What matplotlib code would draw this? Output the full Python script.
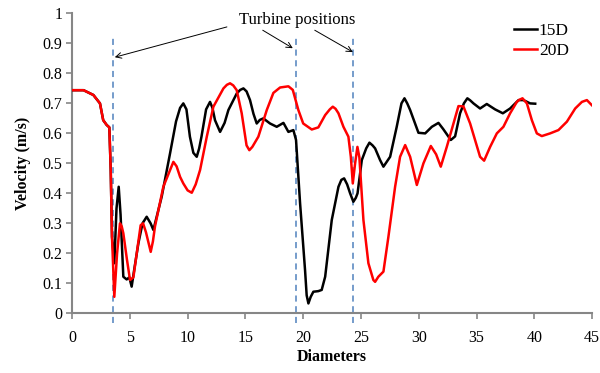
import matplotlib
matplotlib.use("Agg")
import matplotlib.pyplot as plt

plt.rcParams.update({
    "font.family": "serif",
    "font.serif": ["Liberation Serif", "DejaVu Serif"],
})

# velocity profiles along the array (diameters downstream, m/s)
x_15d = [0.0, 1.0, 1.85, 2.42, 2.7, 3.0, 3.23, 3.35, 3.46, 3.66, 3.85, 4.04,
         4.2, 4.44, 4.73, 4.96, 5.16, 5.4, 5.74, 6.1, 6.46, 6.8, 7.04, 7.76,
         8.48, 9.0, 9.35, 9.63, 9.9, 10.2, 10.5, 10.79, 11.0, 11.2, 11.6,
         11.94, 12.15, 12.37, 12.81, 13.2, 13.53, 14.25, 14.55, 14.83, 15.1,
         15.4, 15.7, 15.98, 16.25, 16.55, 17.13, 17.71, 18.29, 18.72, 19.15,
         19.38, 19.73, 20.16, 20.3, 20.45, 20.65, 20.88, 21.31, 21.6, 21.9,
         22.47, 23.05, 23.3, 23.54, 23.8, 24.06, 24.34, 24.55, 24.7, 25.07,
         25.45, 25.73, 26.0, 26.22, 26.65, 26.94, 27.52, 28.09, 28.5, 28.76,
         29.0, 29.25, 29.97, 30.55, 31.13, 31.7, 32.1, 32.77, 33.14, 33.57,
         33.9, 34.2, 34.45, 34.73, 35.3, 35.88, 36.6, 37.27, 37.9, 38.63,
         39.05, 39.63, 40.07]
v_15d = [0.744, 0.744, 0.728, 0.70, 0.644, 0.628, 0.62, 0.478, 0.255, 0.167,
         0.35, 0.422, 0.33, 0.122, 0.113, 0.12, 0.089, 0.15, 0.233, 0.30,
         0.322, 0.30, 0.278, 0.389, 0.533, 0.64, 0.685, 0.70, 0.68, 0.589,
         0.535, 0.522, 0.55, 0.589, 0.68, 0.705, 0.685, 0.644, 0.605, 0.635,
         0.678, 0.733, 0.745, 0.75, 0.74, 0.711, 0.665, 0.633, 0.645, 0.65,
         0.633, 0.622, 0.635, 0.605, 0.611, 0.578, 0.367, 0.144, 0.06, 0.033,
         0.055, 0.072, 0.074, 0.078, 0.122, 0.311, 0.422, 0.445, 0.45, 0.43,
         0.40, 0.372, 0.385, 0.40, 0.511, 0.55, 0.569, 0.56, 0.55, 0.511,
         0.489, 0.522, 0.622, 0.70, 0.717, 0.70, 0.678, 0.602, 0.60, 0.622,
         0.635, 0.615, 0.578, 0.59, 0.667, 0.70, 0.717, 0.71, 0.70, 0.683,
         0.698, 0.68, 0.667, 0.683, 0.711, 0.711, 0.70, 0.699]

x_20d = [0.0, 1.0, 1.85, 2.42, 2.7, 3.0, 3.23, 3.35, 3.46, 3.66, 3.9, 4.15,
         4.3, 4.44, 4.75, 5.02, 5.31, 5.94, 6.15, 6.4, 6.81, 7.0, 7.18, 7.9,
         8.77, 9.05, 9.35, 9.63, 10.0, 10.36, 10.7, 11.08, 11.66, 12.23,
         13.1, 13.4, 13.67, 13.95, 14.25, 14.68, 15.1, 15.34, 15.6, 16.12,
         16.85, 17.42, 18.0, 18.72, 19.1, 19.58, 20.0, 20.74, 21.31, 21.9,
         22.3, 22.56, 22.8, 23.05, 23.48, 23.91, 24.12, 24.29, 24.49, 24.69,
         24.86, 25.21, 25.64, 26.07, 26.22, 26.5, 26.94, 27.37, 27.95, 28.38,
         28.82, 29.25, 29.83, 30.4, 31.04, 31.5, 31.9, 32.42, 33.0, 33.43,
         33.86, 34.44, 35.3, 35.65, 36.17, 36.75, 37.32, 37.9, 38.48, 38.7,
         38.97, 39.35, 39.78, 40.21, 40.64, 41.36, 42.08, 42.81, 43.53, 44.11,
         44.54, 44.97]
v_20d = [0.744, 0.744, 0.728, 0.70, 0.644, 0.628, 0.62, 0.478, 0.255, 0.055,
         0.2, 0.30, 0.29, 0.267, 0.18, 0.111, 0.12, 0.294, 0.30, 0.27, 0.205,
         0.24, 0.29, 0.422, 0.505, 0.49, 0.455, 0.433, 0.41, 0.402, 0.43,
         0.478, 0.589, 0.689, 0.75, 0.762, 0.767, 0.76, 0.744, 0.667, 0.56,
         0.544, 0.555, 0.589, 0.678, 0.735, 0.753, 0.757, 0.745, 0.678, 0.633,
         0.613, 0.62, 0.661, 0.68, 0.689, 0.682, 0.667, 0.622, 0.589, 0.522,
         0.433, 0.50, 0.555, 0.52, 0.311, 0.167, 0.111, 0.105, 0.122, 0.139,
         0.255, 0.422, 0.522, 0.561, 0.522, 0.428, 0.50, 0.558, 0.53, 0.489,
         0.555, 0.633, 0.691, 0.69, 0.633, 0.522, 0.509, 0.555, 0.60, 0.622,
         0.667, 0.705, 0.712, 0.717, 0.70, 0.644, 0.60, 0.591, 0.60, 0.611,
         0.639, 0.683, 0.705, 0.711, 0.694]

turbines = [3.52, 19.38, 24.34]
note = "Turbine positions"
arrow_tips = [(3.7, 0.854), (19.1, 0.884), (24.3, 0.871)]
arrow_tails = [(13.4, 0.955), (16.5, 0.944), (21.0, 0.944)]

fig = plt.figure(figsize=(6.0, 3.73), dpi=100)
ax = fig.add_axes([0.12, 0.16, 0.867, 0.804])

ax.plot(x_15d, v_15d, color="black", lw=1.8, label="15D", zorder=3,
        solid_joinstyle="round")
ax.plot(x_20d, v_20d, color="red", lw=1.8, label="20D", zorder=3,
        solid_joinstyle="round")

for xt in turbines:
    ax.plot([xt, xt], [-0.033, 0.928], color="#4F81BD", lw=1.1,
            ls=(0, (4, 3)), clip_on=False, zorder=2)

ax.text(19.47, 0.978, note, ha="center", va="center", fontsize=12)
for tip, tail in zip(arrow_tips, arrow_tails):
    ax.annotate("", xy=tip, xytext=tail,
                arrowprops=dict(arrowstyle="->", color="black", lw=0.7,
                                shrinkA=0, shrinkB=0))

ax.set_xlim(0, 45)
ax.set_ylim(0, 1)
ax.set_xticks(range(0, 46, 5))
ax.set_yticks([i / 10 for i in range(11)])
ax.set_yticklabels(["0", "0.1", "0.2", "0.3", "0.4", "0.5", "0.6", "0.7",
                    "0.8", "0.9", "1"])
ax.tick_params(direction="out", length=4, width=1.2, color="#868686",
               labelsize=11.5, pad=3)
ax.tick_params(axis="x", pad=8)

for side in ("top", "right"):
    ax.spines[side].set_visible(False)
for side in ("left", "bottom"):
    ax.spines[side].set_color("#868686")
    ax.spines[side].set_linewidth(1.5)

ax.set_xlabel("Diameters", fontsize=11.5, fontweight="bold", labelpad=2)
ax.set_ylabel("Velocity (m/s)", fontsize=11.5, fontweight="bold", labelpad=8)

ax.legend(loc="upper right", bbox_to_anchor=(0.985, 1.02), frameon=False,
          fontsize=12.5, handlelength=1.3, handletextpad=0.1,
          labelspacing=0.2)

fig.savefig("out.png", facecolor="white")
